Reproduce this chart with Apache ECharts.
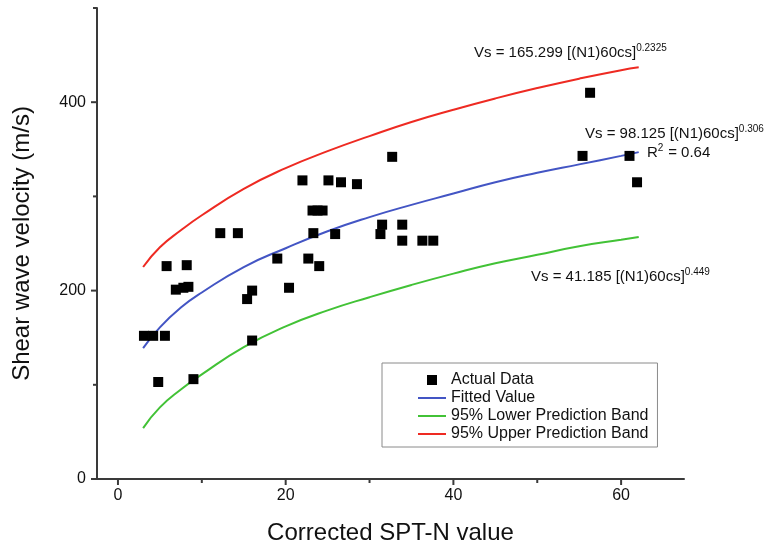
<!DOCTYPE html>
<html>
<head>
<meta charset="utf-8">
<script src="https://cdn.jsdelivr.net/npm/echarts@6/dist/echarts.min.js"></script>
<style>html,body{margin:0;padding:0;background:#fff;}#c{width:775px;height:550px;}</style>
</head>
<body>
<div id="c"></div>
<script>
// ---- data ----
const spt = [3.1, 4.2, 5.6, 4.8, 9.0, 5.8, 8.2, 6.9, 7.8, 8.4, 19.0, 16.0, 15.4, 20.4, 16.0, 12.2, 14.3, 22.0, 25.1, 26.6, 28.5, 23.2, 23.8, 24.4, 23.3, 25.9, 31.5, 31.3, 33.9, 33.9, 36.3, 37.6, 22.7, 24.0, 32.7, 56.3, 55.4, 61.0, 61.9];
const vs  = [152, 152, 152, 103, 106, 226, 227, 201, 203, 204, 234, 200, 191, 203, 147, 261, 261, 317, 317, 315, 313, 285, 285, 285, 261, 260, 270, 260, 270, 253, 253, 253, 234, 226, 342, 410, 343, 343, 315];

const xCurve  = [3, 5, 7.5, 10, 15, 20, 25, 30, 35, 40, 45, 50, 55, 60, 62.1];
const yFitted = [139, 161, 182, 198, 225, 245, 263, 278, 291, 303, 315, 325, 334, 343, 347];
const yUpper  = [225, 246, 264, 280, 308, 330, 348, 364, 379, 392, 404, 415, 425, 434, 437];
const yLower  = [54, 76, 95, 111, 140, 162, 179, 193, 206, 218, 229, 238, 247, 254, 257];

const xMajor = [0, 20, 40, 60];
const xMinor = [10, 30, 50];
const yMajor = [0, 200, 400];
const yMinor = [100, 300, 500];

const seriesNames = ['Actual Data', 'Fitted Value', '95% Lower Prediction Band', '95% Upper Prediction Band'];
// --------------------------------------

const FONT = 'Liberation Sans, Arial, Helvetica, sans-serif';
const X_MIN = -2.5, X_MAX = 67.5, Y_MIN = 0, Y_MAX = 500;
const pair = (xs, ys) => xs.map((x, i) => [x, ys[i]]);
const chart = echarts.init(document.getElementById('c'), null, {renderer: 'canvas'});

const AXIS_COLOR = '#3a3a3a';

// axis ticks drawn through the library's coordinate system
function tickSeries(values, dir, len) {
  return {
    type: 'custom', silent: true, clip: false, z: 3,
    xAxisIndex: 0, yAxisIndex: 0,
    data: values.map(v => [v]),
    renderItem: function (params, api) {
      const v = api.value(0);
      let p, shape;
      if (dir === 'x') {
        p = api.coord([v, Y_MIN]);
        shape = {x1: p[0], y1: p[1], x2: p[0], y2: p[1] + len};
      } else {
        p = api.coord([X_MIN, v]);
        shape = {x1: p[0], y1: p[1], x2: p[0] - len, y2: p[1]};
      }
      return {type: 'line', shape: shape, style: {stroke: AXIS_COLOR, lineWidth: 2}};
    }
  };
}

function eq(x, y, main, sup, align) {
  return {type: 'text', z: 100, style: {
    x: x, y: y, align: align || 'left', verticalAlign: 'middle',
    text: '{m|' + main + '}{s|' + sup + '}',
    rich: {
      m: {fontSize: 15, fontFamily: FONT, fill: '#111', color: '#111', lineHeight: 20, verticalAlign: 'middle'},
      s: {fontSize: 10, fontFamily: FONT, fill: '#111', color: '#111', lineHeight: 10, verticalAlign: 'top'}
    }
  }};
}

const lineIcon = 'path://M0,0 L28,0 L28,2 L0,2 Z';
const squareIcon = 'path://M0,0 L10,0 L10,10 L0,10 Z';

const option = {
  backgroundColor: '#fff',
  animation: false,
  textStyle: {fontFamily: FONT},
  grid: {left: 97, right: 91, top: 8, bottom: 67},
  legend: {
    data: [
      {name: seriesNames[0], icon: squareIcon},
      {name: seriesNames[1], icon: lineIcon},
      {name: seriesNames[2], icon: lineIcon},
      {name: seriesNames[3], icon: lineIcon}
    ],
    symbolKeepAspect: true,
    orient: 'vertical',
    left: 382, top: 363,
    padding: [9, 9, 5, 36],
    itemGap: 2,
    itemWidth: 28,
    itemHeight: 10,
    borderColor: '#8a8a8a', borderWidth: 1,
    textStyle: {fontSize: 16, color: '#111', fontFamily: FONT},
    selectedMode: false
  },
  xAxis: {
    type: 'value', min: X_MIN, max: X_MAX, position: 'bottom',
    name: 'Corrected SPT-N value', nameLocation: 'middle', nameGap: 42,
    nameTextStyle: {fontSize: 24, color: '#111', fontFamily: FONT},
    axisLine: {show: true, onZero: false, lineStyle: {color: AXIS_COLOR, width: 2}},
    axisTick: {show: false},
    splitLine: {show: false},
    axisLabel: {fontSize: 16, color: '#111', margin: 9, customValues: xMajor}
  },
  yAxis: {
    type: 'value', min: Y_MIN, max: Y_MAX, position: 'left',
    name: 'Shear wave velocity (m/s)', nameLocation: 'middle', nameGap: 63,
    nameTextStyle: {fontSize: 24, color: '#111', fontFamily: FONT},
    axisLine: {show: true, onZero: false, lineStyle: {color: AXIS_COLOR, width: 2}},
    axisTick: {show: false},
    splitLine: {show: false},
    axisLabel: {fontSize: 16, color: '#111', margin: 11, customValues: yMajor}
  },
  series: [
    {name: seriesNames[0], type: 'scatter', symbol: 'rect', symbolSize: 10,
     itemStyle: {color: '#000', opacity: 1}, data: pair(spt, vs), z: 5},
    {name: seriesNames[1], type: 'line', smooth: true, symbol: 'none',
     lineStyle: {color: '#4355c4', width: 2}, itemStyle: {color: '#4355c4'}, data: pair(xCurve, yFitted)},
    {name: seriesNames[2], type: 'line', smooth: true, symbol: 'none',
     lineStyle: {color: '#42c236', width: 2}, itemStyle: {color: '#42c236'}, data: pair(xCurve, yLower)},
    {name: seriesNames[3], type: 'line', smooth: true, symbol: 'none',
     lineStyle: {color: '#ee2a22', width: 2}, itemStyle: {color: '#ee2a22'}, data: pair(xCurve, yUpper)},
    tickSeries(xMajor, 'x', 6),
    tickSeries(xMinor, 'x', 4),
    tickSeries(yMajor, 'y', 6),
    tickSeries(yMinor, 'y', 4)
  ],
  graphic: [
    eq(474, 53, 'Vs = 165.299 [(N1)60cs]', '0.2325'),
    eq(585, 134, 'Vs = 98.125 [(N1)60cs]', '0.306'),
    eq(647, 153, 'R', '2'),
    {type: 'text', z: 100, style: {x: 664, y: 153, verticalAlign: 'middle', text: ' = 0.64',
      font: '15px ' + FONT, fill: '#111'}},
    eq(531, 277, 'Vs = 41.185 [(N1)60cs]', '0.449')
  ]
};
chart.setOption(option);
</script>
</body>
</html>
